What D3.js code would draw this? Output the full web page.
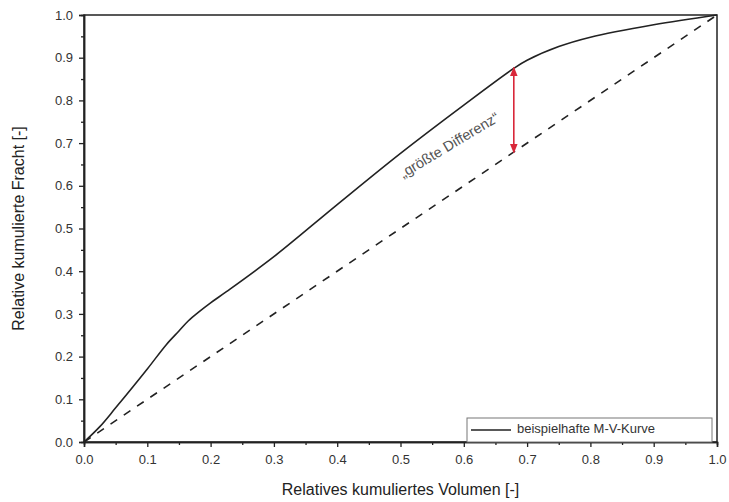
<!DOCTYPE html>
<html><head><meta charset="utf-8">
<script src="https://cdn.jsdelivr.net/npm/d3@7"></script>
<style>body{margin:0;background:#fff}svg{display:block}text{font-family:"Liberation Sans",Arial,sans-serif}</style>
</head><body><svg id="c" width="729" height="502"></svg>
<script>
const curveX = [0, 0.025, 0.05, 0.1, 0.13, 0.15, 0.165, 0.18, 0.2, 0.225, 0.3, 0.4, 0.5, 0.6, 0.68, 0.7, 0.75, 0.8, 0.9, 1.0];
const curveY = [0, 0.036, 0.08, 0.171, 0.228, 0.26, 0.284, 0.303, 0.326, 0.352, 0.434, 0.556, 0.676, 0.789, 0.876, 0.894, 0.926, 0.948, 0.977, 1.0];
const diagX = [0, 1];
const diagY = [0, 1];
const arrowX = [0.679];
const arrowY = [0.678, 0.877];
const ticks = [0,0.1,0.2,0.3,0.4,0.5,0.6,0.7,0.8,0.9,1.0];
const minorTicks = [0.05,0.15,0.25,0.35,0.45,0.55,0.65,0.75,0.85,0.95];
const xTitle = "Relatives kumuliertes Volumen [-]";
const yTitle = "Relative kumulierte Fracht [-]";
const annot = "\u201Egr\u00F6\u00DFte Differenz\u201C";
const legendLabel = "beispielhafte M-V-Kurve";

const svg = d3.select("#c");
const L=84, R=717, T=15, B=442;
const x = d3.scaleLinear().domain([0,1]).range([L,R]);
const y = d3.scaleLinear().domain([0,1]).range([B,T]);

const defs = svg.append("defs");
defs.append("marker").attr("id","ah").attr("viewBox","0 0 10 10").attr("refX",9).attr("refY",5)
  .attr("markerWidth",6).attr("markerHeight",6).attr("orient","auto-start-reverse")
  .append("path").attr("d","M0,1 L10,5 L0,9 z").attr("fill","#d9283a");

svg.append("rect").attr("x",L).attr("y",T).attr("width",R-L).attr("height",B-T)
  .attr("fill","none").attr("stroke","#222").attr("stroke-width",1.5);

svg.append("path").datum(diagX.map((d,i)=>[d,diagY[i]]))
  .attr("d", d3.line().x(d=>x(d[0])).y(d=>y(d[1])))
  .attr("fill","none").attr("stroke","#222").attr("stroke-width",1.6).attr("stroke-dasharray","8,8");

svg.append("path").datum(curveX.map((d,i)=>[d,curveY[i]]))
  .attr("d", d3.line().x(d=>x(d[0])).y(d=>y(d[1])).curve(d3.curveCatmullRom.alpha(0.5)))
  .attr("fill","none").attr("stroke","#222").attr("stroke-width",1.6);

svg.append("line").attr("x1",x(arrowX[0])).attr("x2",x(arrowX[0]))
  .attr("y1",y(arrowY[0])).attr("y2",y(arrowY[1]))
  .attr("stroke","#d9283a").attr("stroke-width",1.6)
  .attr("marker-start","url(#ah)").attr("marker-end","url(#ah)");

const ang = -31;
svg.append("text").attr("transform",`translate(${x(0.578)},${y(0.693)}) rotate(${ang})`)
  .attr("text-anchor","middle").attr("dominant-baseline","middle")
  .attr("font-size",14.5).attr("fill","#555").text(annot);

const xAxis = svg.append("g").attr("transform",`translate(0,${B})`)
  .call(d3.axisBottom(x).tickValues(ticks).tickFormat(d3.format(".1f")).tickSize(5).tickPadding(8));
const xMinor = svg.append("g").attr("transform",`translate(0,${B})`)
  .call(d3.axisBottom(x).tickValues(minorTicks).tickFormat("").tickSize(3));
const yAxis = svg.append("g").attr("transform",`translate(${L},0)`)
  .call(d3.axisLeft(y).tickValues(ticks).tickFormat(d3.format(".1f")).tickSize(5).tickPadding(6));
const yMinor = svg.append("g").attr("transform",`translate(${L},0)`)
  .call(d3.axisLeft(y).tickValues(minorTicks).tickFormat("").tickSize(3));
[xAxis,xMinor,yAxis,yMinor].forEach(g=>{
  g.select(".domain").attr("stroke","#222").attr("stroke-width",1.5);
  g.selectAll(".tick line").attr("stroke","#222").attr("stroke-width",1.3);
  g.selectAll("text").attr("font-size",13).attr("fill","#333").attr("font-family","Liberation Sans, Arial, sans-serif");
});

svg.append("text").attr("x",(L+R)/2).attr("y",495).attr("text-anchor","middle")
  .attr("font-size",16).attr("fill","#222").text(xTitle);
svg.append("text").attr("transform",`translate(24,${(T+B)/2}) rotate(-90)`).attr("text-anchor","middle")
  .attr("font-size",16).attr("fill","#222").text(yTitle);

const lg = svg.append("g");
lg.append("rect").attr("x",467).attr("y",418).attr("width",245).attr("height",24)
  .attr("fill","#fff").attr("stroke","#777").attr("stroke-width",1);
lg.append("line").attr("x1",471).attr("x2",511).attr("y1",430).attr("y2",430)
  .attr("stroke","#222").attr("stroke-width",1.6);
lg.append("text").attr("x",517).attr("y",430).attr("dominant-baseline","middle")
  .attr("font-size",13).attr("fill","#333").text(legendLabel);
</script></body></html>
